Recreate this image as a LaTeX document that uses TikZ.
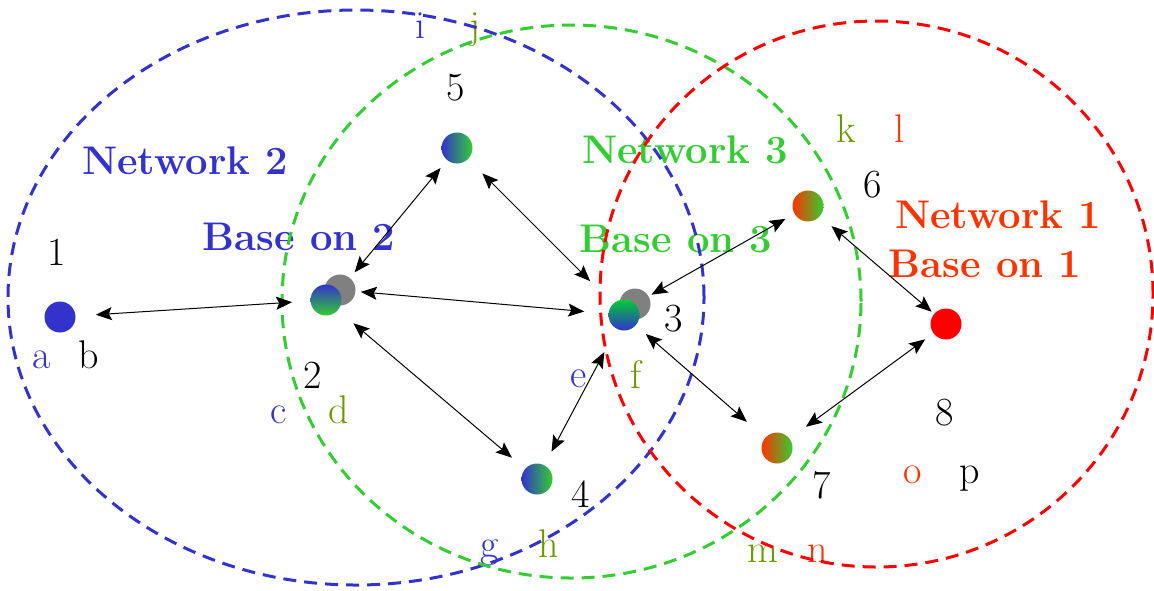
\documentclass[tikz,border=0pt]{standalone}
\usepackage{tikz}
\usetikzlibrary{arrows.meta}
\usepackage{xcolor}
\definecolor{cb}{HTML}{3333CC}
\definecolor{cg}{HTML}{33CC33}
\definecolor{cgd}{HTML}{00CC33}
\definecolor{cr}{HTML}{FF0000}
\definecolor{co}{HTML}{FF3300}
\definecolor{cl}{HTML}{6B9900}
\definecolor{cgr}{HTML}{808080}
\tikzset{
  stn/.style={circle,minimum size=15.5pt,inner sep=0pt},
  lbl/.style={font=\fontsize{20}{24}\selectfont,inner sep=0pt},
  let/.style={font=\fontsize{20}{24}\selectfont,inner sep=0pt,anchor=base},
  net/.style={font=\fontsize{20}{24}\selectfont\bfseries,inner sep=0pt,anchor=base},
  cover/.style={dash pattern=on 6.5pt off 4pt,line width=1.5pt},
  link/.style={{Stealth[length=8pt,width=6.5pt,inset=1.5pt]}-{Stealth[length=8pt,width=6.5pt,inset=1.5pt]},line width=0.5pt},
}
\begin{document}
\begin{tikzpicture}[x=0.5pt,y=-0.5pt]
  \useasboundingbox (0,0) rectangle (1154,590);
  % network names
  \node[net,text=cb] (net2) at (185,174) {Network 2};
  \node[net,text=cb] (base2) at (299,250) {Base on 2};
  \node[net,text=cg] (net3) at (685,163) {Network 3};
  \node[net,text=cg] (base3) at (676,252) {Base on 3};
  \node[net,text=co] (net1) at (998,228) {Network 1};
  \node[net,text=co] (base1) at (985,277) {Base on 1};
  % station numbers
  \node[lbl] (t1) at (57,252) {1};
  \node[lbl] (t2) at (313,375) {2};
  \node[lbl] (t3) at (674,319) {3};
  \node[lbl] (t4) at (581,494) {4};
  \node[lbl] (t5) at (456,88) {5};
  \node[lbl] (t6) at (873,185) {6};
  \node[lbl] (t7) at (822,485) {7};
  \node[lbl] (t8) at (945,413) {8};
  % letters
  \node[let,text=cb] (la) at (42,368) {a};
  \node[let] (lb) at (89,368) {b};
  \node[let,text=cb] (lc) at (279,423) {c};
  \node[let,text=cl] (ld) at (339,423) {d};
  \node[let,text=cb] (le) at (579,387) {e};
  \node[let,text=cl] (lf) at (636,388) {f};
  \node[let,text=cb] (lg) at (490,557) {g};
  \node[let,text=cl] (lh) at (549,557) {h};
  \node[let,text=cb] (li) at (420,38) {i};
  \node[let,text=cl] (lj) at (475,38) {j};
  \node[let,text=cl] (lk) at (846,142) {k};
  \node[let,text=co] (ll) at (899,142) {l};
  \node[let,text=cl] (lm) at (763,562) {m};
  \node[let,text=co] (ln) at (818,562) {n};
  \node[let,text=co] (lo) at (913,483) {o};
  \node[let] (lp) at (970,483) {p};
  % coverage areas
  \draw[cover,cb] (356,297.5) ellipse [x radius=174pt,y radius=143.75pt];
  \draw[cover,cg] (571.5,301.5) ellipse [x radius=144.75pt,y radius=138.25pt];
  \draw[cover,cr] (876.5,294) ellipse [x radius=138.25pt,y radius=136.5pt];
  % stations
  \node[stn,fill=cb] (n1) at (60,317) {};
  \node[stn,fill=cgr] (g2) at (340,290) {};
  \node[stn,top color=cb,bottom color=cg] (n2) at (326,300) {};
  \node[stn,fill=cgr] (g3) at (635,304) {};
  \node[stn,top color=cgd,bottom color=cb] (n3) at (624,315) {};
  \node[stn,left color=cb,right color=cg] (n4) at (537,479) {};
  \node[stn,left color=cb,right color=cg] (n5) at (457,148) {};
  \node[stn,left color=co,right color=cg] (n6) at (808,206) {};
  \node[stn,left color=co,right color=cg] (n7) at (777,448) {};
  \node[stn,fill=cr] (n8) at (946,324) {};
  % links
  \draw[link,shorten <=10pt,shorten >=9pt] (n1) -- (n2);
  \draw[link,shorten <=2.5pt,shorten >=12pt] (g2) -- (n3);
  \draw[link,shorten <=5pt,shorten >=3.5pt] (n5) -- (g2);
  \draw[link,shorten <=10pt,shorten >=16pt] (n5) -- (n3);
  \draw[link,shorten <=10pt,shorten >=8.5pt] (n2) -- (n4);
  \draw[link,shorten <=7.5pt,shorten >=13pt] (n4) -- (n3);
  \draw[link,shorten <=1.5pt,shorten >=5pt] (g3) -- (n6);
  \draw[link,shorten <=6.5pt,shorten >=12pt] (n3) -- (n7);
  \draw[link,shorten <=7.5pt,shorten >=1.5pt] (n6) -- (n8);
  \draw[link,shorten <=5pt,shorten >=10pt] (n8) -- (n7);
\end{tikzpicture}
\end{document}
